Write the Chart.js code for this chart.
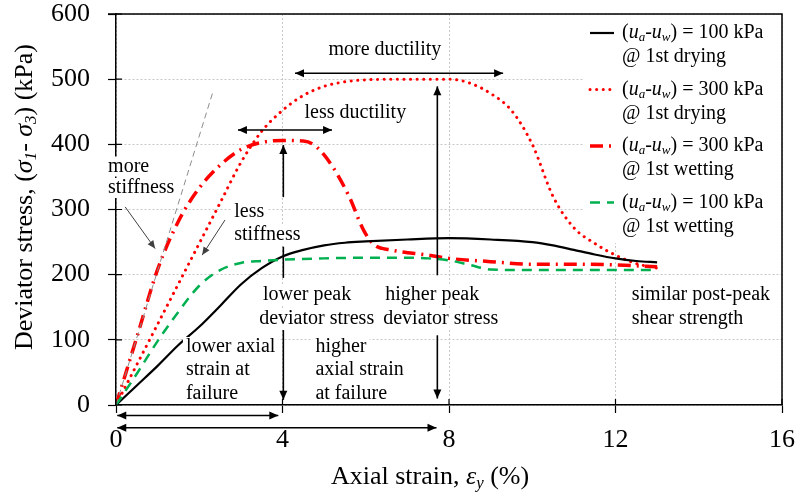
<!DOCTYPE html>
<html>
<head>
<meta charset="utf-8">
<script src="https://cdn.jsdelivr.net/npm/chart.js@4/dist/chart.umd.min.js"></script>
<style>
  html, body { margin: 0; background: #fff; }
</style>
</head>
<body>
<canvas id="chart" width="795" height="499"></canvas>
<script>
// Axial strain (%) and deviator stress (kPa) for each test
const DRY100_X = [0, 0.5, 1, 1.5, 2, 2.5, 3, 3.5, 4, 4.5, 5, 5.5, 6, 7, 8, 9, 10, 10.5, 11, 11.5, 12, 12.5, 13];
const DRY100_Y = [0, 30, 60, 92, 120, 152, 185, 210, 228, 238, 245, 249, 251, 254, 256, 254, 250, 245, 238, 231, 225, 221, 219];

const DRY300_X = [0, 0.5, 1, 1.5, 2, 2.5, 3, 3.5, 4, 4.5, 5, 5.5, 6, 7, 8, 8.5, 9, 9.5, 10, 10.5, 11, 11.5, 12, 12.5, 13];
const DRY300_Y = [0, 62, 124, 186, 248, 310, 372, 420, 452, 475, 489, 496, 499, 500, 500, 494, 478, 452, 400, 320, 272, 248, 230, 217, 210];

const WET300_X = [0, 0.5, 1, 1.5, 2, 2.5, 3, 3.5, 4, 4.5, 4.8, 5.2, 5.6, 5.95, 6.2, 6.6, 7.5, 8, 9, 10, 11, 12, 13];
const WET300_Y = [0, 104, 208, 282, 333, 368, 392, 403, 406, 405, 397, 366, 320, 268, 246, 238, 230, 225, 220, 216, 216, 215, 212];

const WET100_X = [0, 0.5, 1, 1.5, 2, 2.5, 3, 3.5, 4, 5, 6, 7, 7.5, 8, 8.5, 9, 10, 11, 12, 13];
const WET100_Y = [0, 48, 98, 143, 183, 207, 218, 221, 223, 225, 226, 226, 225, 222, 215, 208, 207, 207, 207, 207];

// initial-stiffness guide line
const GUIDE_X = [0, 2.34];
const GUIDE_Y = [0, 483];

const X_TICKS = [0, 4, 8, 12, 16];
const Y_TICKS = [0, 100, 200, 300, 400, 500, 600];

const SERIF = "'Liberation Serif', 'Times New Roman', serif";

// annotation arrows in axis units: x1, y1, x2, y2, head at start, head at end
const ARROWS = [
  [4.3, 509, 9.3, 509, 1, 1],
  [2.93, 422, 5.19, 422, 1, 1],
  [4.02, 319, 4.02, 399, 0, 1],
  [4.02, 243, 4.02, 195, 0, 0],
  [4.02, 115, 4.02, 8, 0, 1],
  [7.72, 199, 7.72, 489, 0, 1],
  [7.72, 107, 7.72, 10, 0, 1],
  [0.03, -16, 3.9, -16, 1, 1],
  [0.03, -35, 7.7, -35, 1, 1],
];
const POINTERS = [
  [0.22, 304, 0.94, 240],
  [2.62, 284, 2.07, 230],
];
const NOTES = [
  ['more ductility', 6.46, 545, 'center'],
  ['less ductility', 5.75, 449, 'center'],
  ['more', -0.19, 366, 'left'],
  ['stiffness', -0.19, 333, 'left'],
  ['less', 2.84, 296, 'left'],
  ['stiffness', 2.84, 261, 'left'],
  ['lower peak', 3.53, 169, 'left'],
  ['deviator stress', 3.44, 133, 'left'],
  ['higher peak', 6.47, 169, 'left'],
  ['deviator stress', 6.42, 133, 'left'],
  ['lower axial', 1.68, 89, 'left'],
  ['strain at', 1.68, 54, 'left'],
  ['failure', 1.68, 18, 'left'],
  ['higher', 4.79, 89, 'left'],
  ['axial strain', 4.79, 54, 'left'],
  ['at failure', 4.79, 18, 'left'],
  ['similar post-peak', 12.39, 169, 'left'],
  ['shear strength', 12.39, 133, 'left'],
];

const SUCTION = (v) => [
  { t: '(' }, { t: 'u', it: 1 }, { t: 'a', it: 1, sub: 1 }, { t: '-' },
  { t: 'u', it: 1 }, { t: 'w', it: 1, sub: 1 }, { t: `) = ${v} kPa` },
];
const LEGEND = [
  { runs: SUCTION(100), note: '@ 1st drying', color: '#000', width: 2.2, dash: [], cap: 'butt' },
  { runs: SUCTION(300), note: '@ 1st drying', color: '#ff0000', width: 3, dash: [0.1, 6.5], cap: 'round' },
  { runs: SUCTION(300), note: '@ 1st wetting', color: '#ff0000', width: 3.5, dash: [13, 6, 2, 6], cap: 'butt' },
  { runs: SUCTION(100), note: '@ 1st wetting', color: '#00b050', width: 2.5, dash: [10, 7], cap: 'butt' },
];

const pts = (xs, ys) => xs.map((x, i) => ({ x, y: ys[i] }));

function richText(ctx, runs, x, y, size, align) {
  const parts = runs.map(r => {
    const fs = r.sub ? size * 0.65 : size;
    const font = `${r.it ? 'italic ' : ''}${fs}px ${SERIF}`;
    ctx.font = font;
    return { t: r.t, font, w: ctx.measureText(r.t).width, dy: r.sub ? size * 0.25 : 0 };
  });
  const total = parts.reduce((s, p) => s + p.w, 0);
  let cx = align === 'center' ? x - total / 2 : x;
  ctx.textAlign = 'left';
  ctx.textBaseline = 'middle';
  for (const p of parts) {
    ctx.font = p.font;
    ctx.fillText(p.t, cx, y + p.dy);
    cx += p.w;
  }
}

function head(ctx, xf, yf, xt, yt, len, half) {
  const a = Math.atan2(yt - yf, xt - xf);
  ctx.beginPath();
  ctx.moveTo(xt, yt);
  ctx.lineTo(xt - len * Math.cos(a) + half * Math.sin(a), yt - len * Math.sin(a) - half * Math.cos(a));
  ctx.lineTo(xt - len * Math.cos(a) - half * Math.sin(a), yt - len * Math.sin(a) + half * Math.cos(a));
  ctx.closePath();
  ctx.fill();
}

function arrow(ctx, x1, y1, x2, y2, h1, h2, w, len, half) {
  ctx.lineWidth = w;
  ctx.beginPath();
  ctx.moveTo(x1, y1);
  ctx.lineTo(x2, y2);
  ctx.stroke();
  if (h1) head(ctx, x2, y2, x1, y1, len, half);
  if (h2) head(ctx, x1, y1, x2, y2, len, half);
}

const sketch = {
  id: 'sketch',
  beforeDatasetsDraw(chart) {
    // legend panel hides the grid behind it
    const ctx = chart.ctx;
    ctx.save();
    ctx.fillStyle = '#fff';
    ctx.fillRect(584, chart.chartArea.top + 1, chart.chartArea.right - 585, 228);
    ctx.restore();
  },
  afterDraw(chart) {
    const { ctx, chartArea: a, scales: { x, y } } = chart;
    const px = v => x.getPixelForValue(v);
    const py = v => y.getPixelForValue(v);
    ctx.save();

    // frame and inner tick marks
    ctx.strokeStyle = '#000';
    ctx.lineWidth = 1.5;
    ctx.beginPath();
    ctx.moveTo(a.left - 8, a.top);
    ctx.lineTo(a.right, a.top);
    ctx.lineTo(a.right, a.bottom);
    ctx.stroke();
    ctx.lineWidth = 1.2;
    ctx.beginPath();
    Y_TICKS.forEach(v => { ctx.moveTo(a.left, py(v)); ctx.lineTo(a.left + 6, py(v)); });
    X_TICKS.forEach(v => { ctx.moveTo(px(v), a.bottom); ctx.lineTo(px(v), a.bottom - 6); });
    ctx.stroke();

    // notes on white boxes
    const fs = 20;
    ctx.font = `${fs}px ${SERIF}`;
    ctx.textBaseline = 'middle';
    NOTES.forEach(([t, vx, vy, al]) => {
      const w = ctx.measureText(t).width;
      const tx = px(vx), ty = py(vy);
      const left = al === 'center' ? tx - w / 2 : tx;
      ctx.fillStyle = '#fff';
      ctx.fillRect(left - 3, ty - fs * 0.5, w + 6, fs);
    });
    ctx.fillStyle = '#000';
    NOTES.forEach(([t, vx, vy, al]) => {
      ctx.textAlign = al;
      ctx.fillText(t, px(vx), py(vy));
    });

    // arrows
    ctx.strokeStyle = '#000';
    ctx.fillStyle = '#000';
    ARROWS.forEach(([x1, y1, x2, y2, h1, h2]) =>
      arrow(ctx, px(x1), py(y1), px(x2), py(y2), h1, h2, 1.6, 9, 4));
    ctx.strokeStyle = '#404040';
    ctx.fillStyle = '#404040';
    POINTERS.forEach(([x1, y1, x2, y2]) =>
      arrow(ctx, px(x1), py(y1), px(x2), py(y2), 0, 1, 1, 8, 3.5));

    // legend
    ctx.fillStyle = '#000';
    LEGEND.forEach((item, i) => {
      const ly = 33 + i * 56.5;
      ctx.save();
      ctx.strokeStyle = item.color;
      ctx.lineWidth = item.width;
      ctx.lineCap = item.cap;
      ctx.setLineDash(item.dash);
      ctx.beginPath();
      ctx.moveTo(590, ly);
      ctx.lineTo(614, ly);
      ctx.stroke();
      ctx.restore();
      richText(ctx, item.runs, 622, ly, 20, 'left');
      richText(ctx, [{ t: item.note }], 622, ly + 24, 20, 'left');
    });

    // axis titles
    richText(ctx, [
      { t: 'Axial strain, ' }, { t: 'ε', it: 1 }, { t: 'y', it: 1, sub: 1 }, { t: ' (%)' },
    ], 430, 477, 26, 'center');
    ctx.translate(25, 197);
    ctx.rotate(-Math.PI / 2);
    richText(ctx, [
      { t: 'Deviator stress, (' }, { t: 'σ', it: 1 }, { t: '1', it: 1, sub: 1 }, { t: '- ' },
      { t: 'σ', it: 1 }, { t: '3', it: 1, sub: 1 }, { t: ') (kPa)' },
    ], 0, 0, 26, 'center');
    ctx.restore();
  },
};

const line = (label, xs, ys, color, width, dash, cap) => ({
  label,
  data: pts(xs, ys),
  borderColor: color,
  borderWidth: width,
  borderDash: dash,
  borderCapStyle: cap,
  pointRadius: 0,
  fill: false,
  cubicInterpolationMode: 'monotone',
});

new Chart(document.getElementById('chart'), {
  type: 'line',
  data: {
    datasets: [
      line('guide', GUIDE_X, GUIDE_Y, '#8c8c8c', 1, [6, 4], 'butt'),
      line('100 kPa @ 1st wetting', WET100_X, WET100_Y, '#00b050', 2.5, [10, 7], 'butt'),
      line('100 kPa @ 1st drying', DRY100_X, DRY100_Y, '#000', 2.2, [], 'butt'),
      line('300 kPa @ 1st drying', DRY300_X, DRY300_Y, '#ff0000', 3, [0.1, 6.5], 'round'),
      line('300 kPa @ 1st wetting', WET300_X, WET300_Y, '#ff0000', 3.5, [13, 6, 2, 6], 'butt'),
    ],
  },
  options: {
    responsive: false,
    animation: false,
    devicePixelRatio: 1,
    layout: { padding: { top: 14, right: 13, left: 0, bottom: 0 } },
    plugins: { legend: { display: false }, tooltip: { enabled: false } },
    scales: {
      x: {
        type: 'linear',
        min: 0,
        max: 16,
        afterFit: s => { s.height = 94; s.paddingLeft = 0; s.paddingRight = 0; },
        afterBuildTicks: s => { s.ticks = X_TICKS.map(v => ({ value: v })); },
        ticks: { color: '#000', padding: 12, font: { family: SERIF, size: 26 } },
        grid: { color: '#c8c8c8', lineWidth: 1, tickColor: '#000', tickLength: 8, tickWidth: 1.2 },
        border: { color: '#000', width: 1.5, dash: [2, 2] },
      },
      y: {
        type: 'linear',
        min: 0,
        max: 600,
        afterFit: s => { s.width = 116; s.paddingTop = 0; s.paddingBottom = 0; },
        afterBuildTicks: s => { s.ticks = Y_TICKS.map(v => ({ value: v })); },
        ticks: { color: '#000', padding: 18, font: { family: SERIF, size: 26 } },
        grid: { color: '#c8c8c8', lineWidth: 1, tickColor: '#000', tickLength: 8, tickWidth: 1.2 },
        border: { color: '#000', width: 1.5, dash: [2, 2] },
      },
    },
  },
  plugins: [sketch],
});
</script>
</body>
</html>
